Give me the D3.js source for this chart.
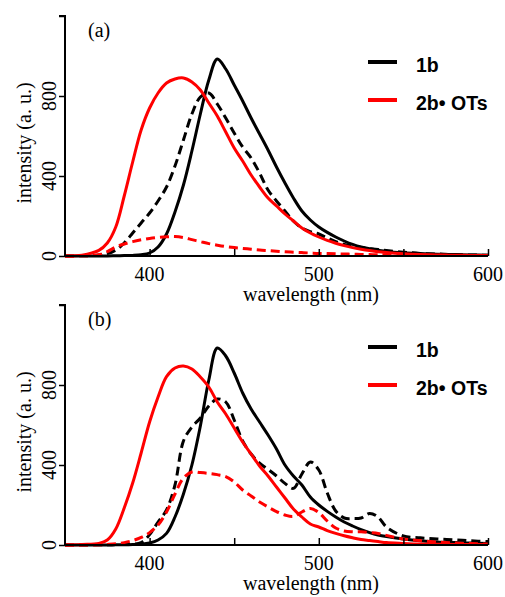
<!DOCTYPE html>
<html>
<head>
<meta charset="utf-8">
<script src="https://cdn.jsdelivr.net/npm/d3@7"></script>
<style>
  body { margin: 0; background: #fff; }
  svg { display: block; }
</style>
</head>
<body>
<div id="vis"></div>
<script>
// wavelength grid shared by every curve (nm)
var wavelengths = [350, 360, 370, 375, 380, 385, 390, 395, 400, 405, 410, 415, 420, 425, 430, 435, 440, 445,
  450, 455, 460, 465, 470, 475, 480, 485, 490, 495, 500, 505, 510, 515, 520, 525, 530, 535, 540,
  550, 560, 570, 580, 590, 600];

// panel (a)
var a_1b = [0, 0, 0, 0, 1, 2, 3, 6, 15, 45, 110, 220, 355, 525, 710, 880, 985, 935,
  855, 775, 690, 610, 530, 445, 365, 290, 225, 180, 145, 118, 95, 75, 58, 45, 36, 29, 23,
  16, 12, 9, 7, 5, 4];
var a_1b_dash = [0, 1, 5, 12, 30, 65, 115, 165, 215, 275, 345, 450, 580, 710, 795, 815, 760, 690,
  615, 545, 490, 415, 330, 275, 225, 175, 140, 122, 110, 90, 72, 58, 50, 43, 37, 32, 27,
  19, 13, 10, 7, 5, 4];
var a_2b = [0, 4, 28, 65, 145, 300, 470, 630, 740, 815, 865, 885, 890, 870, 830, 765, 700, 620,
  540, 475, 405, 345, 290, 250, 210, 175, 140, 115, 95, 78, 64, 52, 42, 34, 27, 21, 17,
  11, 7, 5, 4, 3, 2];
var a_2b_dash = [0, 1, 6, 22, 45, 60, 72, 81, 88, 93, 96, 97, 92, 82, 72, 62, 54, 47,
  42, 38, 34, 30, 27, 24, 21, 19, 17, 15, 13, 12, 11, 10, 9, 8, 7, 6, 6,
  5, 4, 4, 3, 3, 3];

// panel (b)
var b_1b = [0, 0, 0, 0, 1, 1, 2, 4, 10, 25, 58, 140, 255, 400, 595, 825, 985, 945,
  860, 760, 680, 615, 550, 480, 400, 345, 300, 240, 200, 168, 140, 115, 95, 77, 62, 50, 42,
  30, 21, 15, 12, 10, 8];
var b_1b_dash = [0, 0, 1, 1, 2, 3, 4, 12, 52, 115, 175, 300, 520, 590, 635, 695, 730, 715,
  625, 520, 455, 410, 378, 345, 308, 283, 355, 415, 375, 260, 170, 135, 132, 135, 158, 140, 90,
  45, 36, 30, 26, 21, 17];
var b_2b = [0, 3, 8, 25, 80, 185, 310, 460, 615, 740, 842, 885, 895, 880, 840, 790, 715, 655,
  585, 515, 455, 395, 345, 290, 235, 180, 140, 105, 90, 72, 58, 46, 36, 27, 22, 17, 12,
  8, 5, 4, 3, 2, 2];
var b_2b_dash = [0, 0, 1, 3, 6, 12, 22, 38, 62, 100, 165, 255, 335, 365, 362, 358, 352, 342,
  315, 275, 245, 215, 190, 167, 150, 143, 165, 183, 162, 120, 85, 70, 66, 66, 62, 58, 48,
  30, 22, 15, 10, 7, 5];

var xTicks = [400, 450, 500, 550, 600];
var xLabels = [400, 500, 600];
var yTicks = [0, 400, 800, 1200];
var yLabels = [0, 400, 800];
var legendNames = ["1b", "2b\u2022 OTs"];

var serif = "'Liberation Serif', 'Times New Roman', serif";
var sans = "'Liberation Sans', Arial, sans-serif";

var width = 505, height = 597;

var svg = d3.select("#vis").append("svg")
    .attr("width", width)
    .attr("height", height);

// x scale is the same for both panels
var x = d3.scaleLinear().domain([350, 600]).range([65, 488]);

var panels = [
  { tag: "(a)", top: 16, bottom: 256, legendY: [62, 100],
    series: [[a_1b, "#000", false], [a_1b_dash, "#000", true], [a_2b, "#ff0000", false], [a_2b_dash, "#ff0000", true]] },
  { tag: "(b)", top: 305, bottom: 545, legendY: [347, 385],
    series: [[b_1b, "#000", false], [b_1b_dash, "#000", true], [b_2b, "#ff0000", false], [b_2b_dash, "#ff0000", true]] }
];

panels.forEach(function(p) {
  var y = d3.scaleLinear().domain([0, 1200]).range([p.bottom, p.top]);
  var g = svg.append("g");

  var line = d3.line()
      .x(function(d) { return x(d[0]); })
      .y(function(d) { return Math.min(y(d[1]), p.bottom); })
      .curve(d3.curveCatmullRom.alpha(0.5));

  // curves
  p.series.forEach(function(s) {
    var pts = wavelengths.map(function(w, i) { return [w, s[0][i]]; });
    g.append("path")
        .datum(pts)
        .attr("fill", "none")
        .attr("stroke", s[1])
        .attr("stroke-width", 3)
        .attr("stroke-dasharray", s[2] ? "9,5" : null)
        .attr("d", line);
  });

  // x axis, ticks pointing inward
  var xa = g.append("g")
      .attr("transform", "translate(0," + p.bottom + ")")
      .call(d3.axisTop(x).tickValues(xTicks).tickSize(7).tickFormat(""));
  xa.select(".domain").attr("stroke-width", 2).attr("d", "M" + x(350) + ",0H" + x(600));
  xa.selectAll(".tick line").attr("stroke-width", 1.5);

  g.selectAll(".xlab")
      .data(xLabels)
    .enter().append("text")
      .attr("x", function(d) { return x(d); })
      .attr("y", p.bottom + 25)
      .attr("text-anchor", "middle")
      .style("font-family", serif)
      .style("font-size", "20px")
      .text(function(d) { return d; });

  g.append("text")
      .attr("x", 311)
      .attr("y", p.bottom + 45)
      .attr("text-anchor", "middle")
      .style("font-family", serif)
      .style("font-size", "20px")
      .text("wavelength (nm)");

  // y axis, ticks outward
  var ya = g.append("g")
      .attr("transform", "translate(" + x(350) + ",0)")
      .call(d3.axisLeft(y).tickValues(yTicks).tickSize(6).tickFormat(""));
  ya.select(".domain").attr("stroke-width", 2).attr("d", "M-6," + p.top + "H0V" + p.bottom);
  ya.selectAll(".tick line").attr("stroke-width", 1.5);

  g.selectAll(".ylab")
      .data(yLabels)
    .enter().append("text")
      .attr("transform", function(d) { return "translate(56," + y(d) + ")rotate(-90)"; })
      .attr("text-anchor", "middle")
      .style("font-family", serif)
      .style("font-size", "20px")
      .text(function(d) { return d; });

  g.append("text")
      .attr("transform", "translate(31," + (p.top + 127) + ")rotate(-90)")
      .attr("text-anchor", "middle")
      .style("font-family", serif)
      .style("font-size", "20px")
      .text("intensity (a. u.)");

  g.append("text")
      .attr("x", 88)
      .attr("y", p.top + 21)
      .style("font-family", serif)
      .style("font-size", "20px")
      .text(p.tag);

  // legend
  ["#000", "#ff0000"].forEach(function(c, i) {
    g.append("line")
        .attr("x1", 368).attr("x2", 397)
        .attr("y1", p.legendY[i]).attr("y2", p.legendY[i])
        .attr("stroke", c)
        .attr("stroke-width", 4);
    g.append("text")
        .attr("x", 416)
        .attr("y", p.legendY[i] + 10)
        .style("font-family", sans)
        .style("font-weight", "bold")
        .style("font-size", "19.5px")
        .text(legendNames[i]);
  });
});
</script>
</body>
</html>
